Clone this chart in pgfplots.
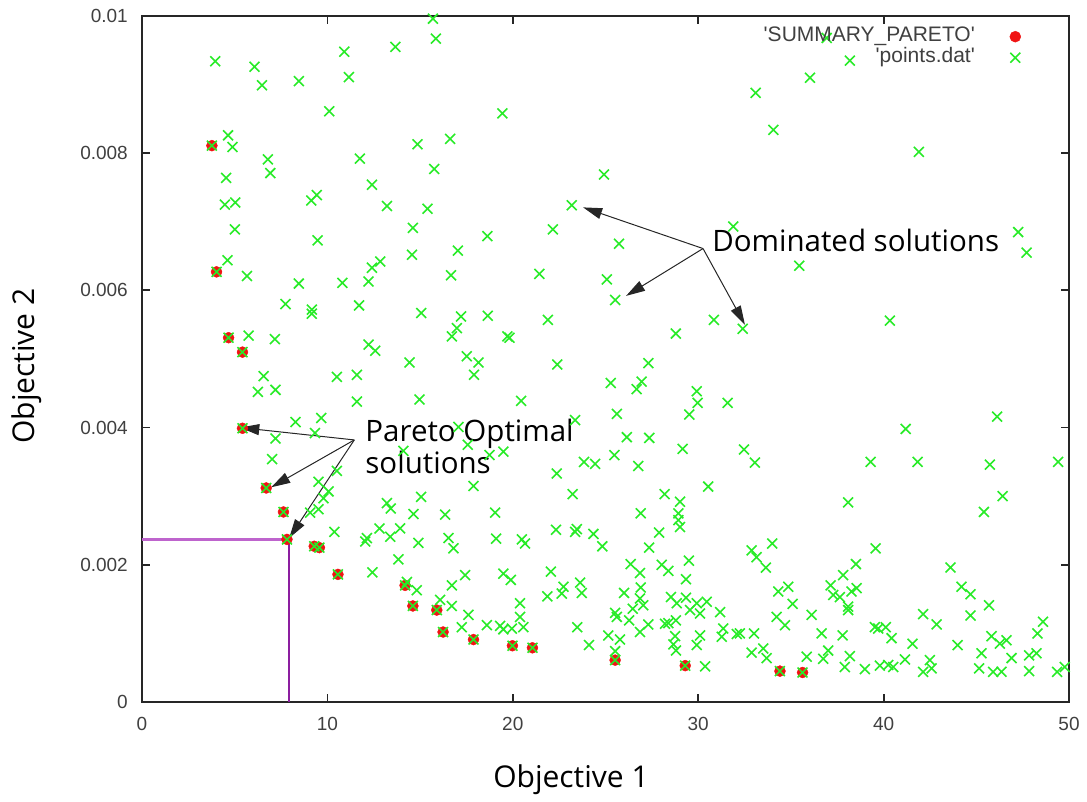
\documentclass[border=0pt]{standalone}
\usepackage{fontspec}
\setmainfont{Open Sans}
\newfontfamily\tickfont{Liberation Sans}
\usepackage{pgfplots}
\pgfplotsset{compat=1.18}
\usetikzlibrary{arrows.meta}
\definecolor{ptgreen}{RGB}{40,235,40}
\definecolor{ptred}{RGB}{240,20,20}
\definecolor{plineA}{RGB}{190,100,205}
\definecolor{plineB}{RGB}{140,30,160}

\begin{document}
\begin{tikzpicture}
\path[use as bounding box] (-142pt,-100pt) rectangle (945pt,702pt);
\begin{axis}[
  scale only axis,
  width=927pt, height=686pt,
  xmin=0, xmax=50, ymin=0, ymax=0.01,
  clip=false,
  axis line style={line width=2.2pt, black!85},
  tick style={line width=1.8pt, black!85},
  major tick length=8pt,
  tick align=inside,
  xtick={0,10,20,30,40,50},
  xticklabels={0,10,20,30,40,50},
  ytick={0,0.002,0.004,0.006,0.008,0.01},
  yticklabels={0,0.002,0.004,0.006,0.008,0.01},
  scaled y ticks=false,
  ticklabel style={font=\tickfont\fontsize{19}{22}\selectfont, text=black!75},
  xticklabel style={anchor=center, inner sep=0pt, yshift=-22pt},
  yticklabel style={anchor=east, inner sep=0pt, xshift=-14pt},
  legend plot pos=right,
  legend cell align=right,
  legend style={at={(rel axis cs:1,1)}, anchor=north east, xshift=-48pt, yshift=-10pt,
    draw=none, fill=none, inner sep=0pt, column sep=34pt, row sep=0pt,
    font=\tickfont\fontsize{21}{22}\selectfont, text=black!75,
    nodes={inner sep=1pt, text height=14pt, text depth=5pt}},
]
% guide lines to one Pareto point
\addplot[color=plineA, line width=2.2pt, forget plot, no marks] coordinates {(0,0.002368) (7.94,0.002368)};
\addplot[color=plineB, line width=1.8pt, forget plot, no marks] coordinates {(7.94,0.002368) (7.94,0)};

\addplot[only marks, mark=*, mark size=5.5pt, color=ptred] coordinates {
(3.77,0.00811)(4.02,0.00627)(4.67,0.00531)(5.42,0.00510)(5.42,0.00399)(6.70,0.00312)
(7.63,0.00277)(7.82,0.00237)(9.29,0.00227)(9.57,0.00225)(10.57,0.00186)(14.19,0.00170)
(14.61,0.00140)(15.90,0.00134)(16.24,0.00102)(17.88,0.00091)(19.98,0.00082)(21.06,0.00079)
(25.52,0.00061)(29.30,0.00053)(34.41,0.00045)(35.63,0.00043)
};
\addlegendentry{\textquotesingle SUMMARY\_PARETO\textquotesingle}

\addplot[only marks, mark=x, mark size=7pt, color=ptgreen, mark options={line width=1.6pt}] coordinates {
(3.77,0.00811)(4.02,0.00627)(4.67,0.00531)(5.42,0.00510)(5.42,0.00399)(6.70,0.00312)
(7.63,0.00277)(7.82,0.00237)(9.29,0.00227)(9.57,0.00225)(10.57,0.00186)(14.19,0.00170)
(14.61,0.00140)(15.90,0.00134)(16.24,0.00102)(17.88,0.00091)(19.98,0.00082)(21.06,0.00079)
(25.52,0.00061)(29.30,0.00053)(34.41,0.00045)(35.63,0.00043)
(15.69,0.00996)(15.85,0.00967)(10.91,0.00948)(13.67,0.00955)(3.95,0.00934)(6.07,0.00926)
(6.47,0.00899)(8.46,0.00905)(11.16,0.00911)(10.10,0.00861)(4.64,0.00826)(4.88,0.00809)
(6.79,0.00791)(6.92,0.00771)(11.75,0.00792)(14.86,0.00813)(16.62,0.00821)(15.76,0.00777)
(4.54,0.00764)(12.40,0.00754)(4.47,0.00725)(5.03,0.00728)(9.13,0.00731)(9.43,0.00739)
(13.21,0.00723)(15.40,0.00719)(5.01,0.00689)(14.61,0.00691)(9.47,0.00673)(4.61,0.00644)
(5.66,0.00621)(8.46,0.00610)(10.81,0.00611)(12.22,0.00613)(12.40,0.00633)(12.85,0.00642)
(14.56,0.00652)(17.04,0.00658)(16.67,0.00622)(7.74,0.00580)(9.16,0.00572)(9.16,0.00566)
(11.71,0.00578)(15.06,0.00567)(17.21,0.00562)(16.98,0.00545)(16.71,0.00533)(5.75,0.00534)
(7.17,0.00529)(12.22,0.00521)(12.58,0.00512)(14.43,0.00495)(17.52,0.00504)(6.56,0.00475)
(6.25,0.00452)(7.20,0.00455)(10.51,0.00474)(11.59,0.00477)(11.59,0.00438)(14.97,0.00441)
(8.28,0.00408)(9.67,0.00414)(9.33,0.00392)(7.20,0.00384)(7.02,0.00354)(10.51,0.00337)
(14.10,0.00366)(17.07,0.00401)(17.57,0.00375)(9.52,0.00321)(10.06,0.00307)(9.79,0.00297)
(9.52,0.00281)(9.07,0.00276)(10.38,0.00248)(15.06,0.00299)(13.21,0.00290)(13.42,0.00282)
(14.64,0.00274)(16.35,0.00273)(12.81,0.00253)(13.92,0.00253)(12.13,0.00239)(12.04,0.00234)
(13.39,0.00241)(14.91,0.00232)(16.53,0.00239)(16.80,0.00224)(13.83,0.00208)(12.43,0.00189)
(17.43,0.00185)(16.71,0.00170)(14.82,0.00163)(14.29,0.00175)(16.08,0.00149)(16.71,0.00140)
(17.61,0.00127)(17.25,0.00109)(22.37,0.00333)(17.88,0.00315)(23.23,0.00303)(28.19,0.00303)
(29.02,0.00292)(30.54,0.00314)(19.05,0.00276)(26.90,0.00275)(28.93,0.00275)(28.93,0.00265)
(29.02,0.00255)(22.33,0.00251)(23.45,0.00252)(23.36,0.00248)(24.35,0.00245)(24.83,0.00227)
(27.89,0.00247)(27.35,0.00225)(19.10,0.00238)(20.49,0.00237)(20.66,0.00231)(33.99,0.00231)
(32.88,0.00221)(33.15,0.00211)(33.65,0.00196)(29.50,0.00206)(26.36,0.00201)(26.86,0.00188)
(28.03,0.00200)(28.39,0.00191)(19.49,0.00187)(19.89,0.00178)(22.05,0.00190)(29.34,0.00179)
(22.73,0.00168)(22.64,0.00158)(21.86,0.00154)(23.63,0.00174)(23.72,0.00159)(26.00,0.00159)
(26.90,0.00167)(26.86,0.00151)(27.04,0.00141)(28.53,0.00153)(28.84,0.00144)(29.34,0.00152)
(29.92,0.00144)(30.46,0.00146)(29.56,0.00134)(30.10,0.00129)(31.18,0.00131)(34.32,0.00161)
(34.86,0.00168)(34.23,0.00124)(34.68,0.00112)(20.39,0.00144)(20.39,0.00124)(18.60,0.00112)
(19.32,0.00111)(19.49,0.00106)(19.95,0.00107)(20.57,0.00109)(23.48,0.00109)(25.52,0.00130)
(25.61,0.00124)(26.47,0.00136)(26.27,0.00119)(27.31,0.00113)(26.86,0.00102)(28.21,0.00114)
(28.39,0.00115)(28.80,0.00119)(25.15,0.00097)(25.78,0.00091)(24.11,0.00083)(25.52,0.00074)
(28.75,0.00096)(28.66,0.00084)(28.80,0.00075)(30.10,0.00097)(29.92,0.00083)(31.35,0.00107)
(31.27,0.00095)(32.08,0.00099)(32.25,0.00100)(33.01,0.00100)(32.88,0.00072)(33.51,0.00078)
(33.69,0.00064)(30.37,0.00052)(46.42,0.00300)(45.41,0.00277)(38.09,0.00291)(39.57,0.00224)
(38.51,0.00201)(37.82,0.00185)(37.14,0.00170)(37.28,0.00156)(37.64,0.00153)(38.27,0.00161)
(38.54,0.00166)(38.09,0.00139)(38.09,0.00134)(35.09,0.00143)(36.12,0.00127)(43.61,0.00196)
(44.20,0.00168)(44.69,0.00157)(45.69,0.00141)(44.69,0.00126)(42.13,0.00128)(42.86,0.00113)
(48.60,0.00117)(48.30,0.00100)(36.66,0.00100)(37.79,0.00097)(39.53,0.00109)(39.71,0.00107)
(40.12,0.00109)(40.43,0.00093)(41.56,0.00085)(43.99,0.00083)(45.82,0.00096)(46.27,0.00085)
(46.63,0.00090)(37.01,0.00075)(36.74,0.00063)(35.85,0.00066)(38.18,0.00067)(37.91,0.00051)
(38.99,0.00048)(39.80,0.00053)(40.25,0.00054)(40.52,0.00051)(41.15,0.00062)(42.50,0.00061)
(42.59,0.00049)(42.13,0.00044)(45.28,0.00071)(45.15,0.00049)(45.91,0.00044)(46.36,0.00044)
(46.90,0.00064)(47.85,0.00068)(48.25,0.00071)(47.85,0.00045)(49.36,0.00044)(49.77,0.00051)
(25.73,0.00668)(21.43,0.00624)(25.07,0.00616)(25.52,0.00586)(30.85,0.00557)(32.40,0.00544)
(28.79,0.00537)(18.65,0.00563)(21.89,0.00557)(19.71,0.00533)(19.82,0.00531)(18.15,0.00495)
(17.91,0.00477)(22.40,0.00492)(27.31,0.00494)(25.28,0.00465)(26.95,0.00467)(26.68,0.00456)
(29.92,0.00453)(29.97,0.00436)(29.52,0.00419)(31.59,0.00436)(20.45,0.00439)(25.61,0.00420)
(23.36,0.00411)(26.15,0.00386)(27.36,0.00385)(29.16,0.00369)(32.47,0.00368)(33.06,0.00349)
(25.48,0.00360)(23.84,0.00350)(24.44,0.00347)(26.77,0.00344)(18.74,0.00360)(19.49,0.00365)
(19.44,0.00858)(24.92,0.00769)(23.18,0.00724)(22.16,0.00689)(18.63,0.00679)(33.10,0.00888)
(34.05,0.00834)(31.89,0.00693)(36.93,0.00968)(38.18,0.00935)(36.03,0.00910)(41.90,0.00802)
(47.26,0.00685)(47.71,0.00655)(35.45,0.00636)(40.34,0.00556)(46.12,0.00416)(41.19,0.00398)
(39.30,0.00350)(41.83,0.00350)(45.73,0.00346)(49.41,0.00350)
};
\addlegendentry{\textquotesingle points.dat\textquotesingle}

% annotations
\draw[line width=1pt, black!85, -{Triangle[length=19pt,width=11pt]}] (axis cs:30.26,0.00661) -- (axis cs:23.79,0.00721);
\draw[line width=1pt, black!85, -{Triangle[length=19pt,width=11pt]}] (axis cs:30.26,0.00661) -- (axis cs:26.11,0.00592);
\draw[line width=1pt, black!85, -{Triangle[length=19pt,width=11pt]}] (axis cs:30.26,0.00661) -- (axis cs:32.52,0.00550);
\node[anchor=base west, inner sep=0pt, font=\fontsize{29.5}{34}\selectfont] at (axis cs:30.75,0.006565) {Dominated solutions};

\draw[line width=1pt, black!85, -{Triangle[length=19pt,width=11pt]}] (axis cs:11.45,0.00382) -- (axis cs:5.30,0.00400);
\draw[line width=1pt, black!85, -{Triangle[length=19pt,width=11pt]}] (axis cs:11.45,0.00382) -- (axis cs:6.97,0.00313);
\draw[line width=1pt, black!85, -{Triangle[length=19pt,width=11pt]}] (axis cs:11.45,0.00382) -- (axis cs:7.94,0.00239);
\node[anchor=base west, inner sep=0pt, font=\fontsize{29.5}{34}\selectfont] at (axis cs:12.04,0.003796) {Pareto Optimal};
\node[anchor=base west, inner sep=0pt, font=\fontsize{29.5}{34}\selectfont] at (axis cs:12.04,0.00333) {solutions};
\end{axis}
\node[font=\fontsize{30}{34}\selectfont] at (429pt,-78pt) {Objective 1};
\node[rotate=90, font=\fontsize{30}{34}\selectfont] at (-115pt,336pt) {Objective 2};
\end{tikzpicture}
\end{document}
